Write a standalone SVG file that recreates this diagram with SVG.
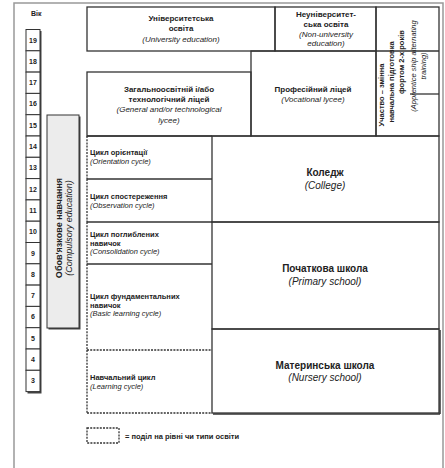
<svg xmlns="http://www.w3.org/2000/svg" width="445" height="468" viewBox="0 0 445 468">
<defs>
<style>
text{font-family:"Liberation Sans",Arial,sans-serif;fill:#222}
.b{font-weight:bold}
.i{font-style:italic}
.c{text-anchor:middle}
.ln{stroke:#333;stroke-width:1.3;fill:none}
.dash{stroke:#333;stroke-width:1.3;fill:none;stroke-dasharray:2 1.2}
.age rect.box{fill:#fff;stroke:#333;stroke-width:1}
.sh{fill:#444}
.age text{font-size:7px;font-weight:bold;text-anchor:middle}
</style>
</defs>
<rect x="0" y="0" width="445" height="468" fill="#fff"/>
<rect x="14" y="3" width="429" height="470" fill="none" stroke="#999" stroke-width="1.5"/>

<g id="vik"><text x="31" y="16" class="b" font-size="7">Вік</text></g>

<g id="ages" class="age">
<rect class="sh" x="27.5" y="31" width="14" height="362.5"/>
<rect class="box" x="26" y="29.5" width="14" height="21.3"/><text x="33" y="42.5">19</text>
<rect class="box" x="26" y="50.8" width="14" height="21.3"/><text x="33" y="63.8">18</text>
<rect class="box" x="26" y="72.1" width="14" height="21.3"/><text x="33" y="85.1">17</text>
<rect class="box" x="26" y="93.4" width="14" height="21.3"/><text x="33" y="106.4">16</text>
<rect class="box" x="26" y="114.7" width="14" height="21.3"/><text x="33" y="127.7">15</text>
<rect class="box" x="26" y="136" width="14" height="21.3"/><text x="33" y="149">14</text>
<rect class="box" x="26" y="157.3" width="14" height="21.3"/><text x="33" y="170.3">13</text>
<rect class="box" x="26" y="178.6" width="14" height="21.3"/><text x="33" y="191.6">12</text>
<rect class="box" x="26" y="199.9" width="14" height="21.3"/><text x="33" y="212.9">11</text>
<rect class="box" x="26" y="221.2" width="14" height="21.3"/><text x="33" y="234.2">10</text>
<rect class="box" x="26" y="242.5" width="14" height="21.3"/><text x="33" y="255.5">9</text>
<rect class="box" x="26" y="263.8" width="14" height="21.3"/><text x="33" y="276.8">8</text>
<rect class="box" x="26" y="285.1" width="14" height="21.3"/><text x="33" y="298.1">7</text>
<rect class="box" x="26" y="306.4" width="14" height="21.3"/><text x="33" y="319.4">6</text>
<rect class="box" x="26" y="327.7" width="14" height="21.3"/><text x="33" y="340.7">5</text>
<rect class="box" x="26" y="349" width="14" height="21.3"/><text x="33" y="362">4</text>
<rect class="box" x="26" y="370.3" width="14" height="21.3"/><text x="33" y="383.3">3</text>
</g>

<g id="compulsory">
<rect x="48.5" y="116.5" width="32" height="213" fill="#444"/>
<rect x="47" y="115" width="32" height="213" fill="#ececec" stroke="#333" stroke-width="1"/>
<text transform="translate(61.5,228) rotate(-90)" class="b c" font-size="9">Обов'язкове навчання</text>
<text transform="translate(71.5,228) rotate(-90)" class="i c" font-size="9">(Compulsory education)</text>
</g>

<g id="university">
<rect class="ln" x="87" y="7" width="188" height="44"/>
<text x="181" y="21" class="b c" font-size="8">Університетська</text>
<text x="181" y="31" class="b c" font-size="8">освіта</text>
<text x="181" y="42" class="i c" font-size="8">(University education)</text>
</g>

<g id="non-university">
<rect class="ln" x="275" y="7" width="101" height="44"/>
<text x="326" y="17" class="b c" font-size="8">Неуніверситет-</text>
<text x="326" y="27" class="b c" font-size="8">ська освіта</text>
<text x="326" y="37" class="i c" font-size="8">(Non-university</text>
<text x="326" y="46" class="i c" font-size="8">education)</text>
</g>

<g id="apprentice">
<rect class="ln" x="376" y="7" width="63" height="129"/>
<line class="ln" x1="376" y1="51" x2="439" y2="51"/>
<line class="ln" x1="410" y1="94" x2="439" y2="94"/>
<text transform="translate(383.5,95) rotate(-90)" class="b c" font-size="7.5">Участво – змінна</text>
<text transform="translate(393.5,82) rotate(-90)" class="b c" font-size="7.5">навчальна підготовка</text>
<text transform="translate(403.5,62) rotate(-90)" class="b c" font-size="7.5">фортом 2-х років</text>
<text transform="translate(415.5,66) rotate(-90)" class="i c" font-size="7.5">(Apprentice ship alternating</text>
<text transform="translate(425.5,66) rotate(-90)" class="i c" font-size="7.5">training)</text>
</g>

<g id="general-lycee">
<rect class="ln" x="87" y="72" width="164" height="64"/>
<text x="169" y="92" class="b c" font-size="8">Загальноосвітній і/або</text>
<text x="169" y="102" class="b c" font-size="8">технологічний ліцей</text>
<text x="169" y="112" class="i c" font-size="8">(General and/or technological</text>
<text x="169" y="123" class="i c" font-size="8">lycee)</text>
</g>

<g id="vocational-lycee">
<rect class="ln" x="251" y="51" width="125" height="85"/>
<text x="313" y="92" class="b c" font-size="8">Професійний ліцей</text>
<text x="313" y="102" class="i c" font-size="8">(Vocational lycee)</text>
</g>

<g id="orientation">
<line class="ln" x1="87" y1="136" x2="212" y2="136"/>
<line class="dash" x1="87" y1="136" x2="87" y2="179"/>
<text x="90" y="155" class="b" font-size="7.5">Цикл орієнтації</text>
<text x="90" y="164" class="i" font-size="7.5">(Orientation cycle)</text>
</g>

<g id="observation">
<line class="ln" x1="87" y1="179" x2="212" y2="179"/>
<line class="dash" x1="87" y1="179" x2="87" y2="222"/>
<text x="90" y="199" class="b" font-size="7.5">Цикл спостереження</text>
<text x="90" y="208" class="i" font-size="7.5">(Observation   cycle)</text>
</g>

<g id="consolidation">
<line class="ln" x1="87" y1="222" x2="212" y2="222"/>
<line class="dash" x1="87" y1="222" x2="87" y2="264"/>
<text x="90" y="237" class="b" font-size="7.5">Цикл поглиблених</text>
<text x="90" y="245.5" class="b" font-size="7.5">навичок</text>
<text x="90" y="254" class="i" font-size="7.5">(Consolidation cycle)</text>
</g>

<g id="basic-learning">
<line class="ln" x1="87" y1="264" x2="212" y2="264"/>
<line class="dash" x1="87" y1="264" x2="87" y2="350"/>
<text x="90" y="299" class="b" font-size="7.5">Цикл фундаментальних</text>
<text x="90" y="307.5" class="b" font-size="7.5">навичок</text>
<text x="90" y="316" class="i" font-size="7.5">(Basic learning cycle)</text>
</g>

<g id="learning">
<line class="dash" x1="87" y1="350" x2="212" y2="350"/>
<line class="dash" x1="87" y1="350" x2="87" y2="413"/>
<line class="dash" x1="87" y1="413" x2="212" y2="413"/>
<text x="90" y="380" class="b" font-size="7.5">Навчальний цикл</text>
<text x="90" y="389" class="i" font-size="7.5">(Learning cycle)</text>
</g>

<g id="college">
<rect class="ln" x="212" y="136" width="227" height="86"/>
<text x="325" y="176" class="b c" font-size="10">Коледж</text>
<text x="325" y="189" class="i c" font-size="10">(College)</text>
</g>

<g id="primary">
<rect class="ln" x="212" y="222" width="227" height="107"/>
<text x="325" y="272" class="b c" font-size="10">Початкова школа</text>
<text x="325" y="285" class="i c" font-size="10">(Primary school)</text>
</g>

<g id="nursery">
<line x1="213" y1="414" x2="440" y2="414" stroke="#333" stroke-width="1.5"/>
<line x1="440" y1="330" x2="440" y2="414" stroke="#333" stroke-width="1.5"/>
<rect class="ln" x="212" y="329" width="227" height="84"/>
<text x="325" y="369" class="b c" font-size="10">Материнська школа</text>
<text x="325" y="381" class="i c" font-size="10">(Nursery school)</text>
</g>

<g id="legend">
<rect class="dash" x="87" y="428" width="32" height="15"/>
<text x="125" y="438.5" class="b" font-size="7.5">= поділ на рівні чи типи освіти</text>
</g>

<g id="connectors"></g>
</svg>
